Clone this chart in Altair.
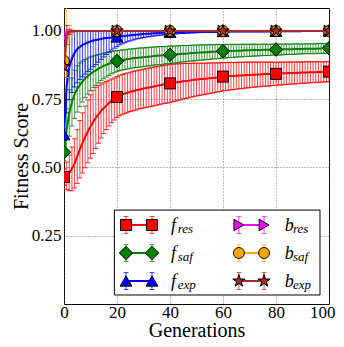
import altair as alt
import pandas as pd

# ---------------- data ----------------
gens = list(range(101))

f_res_mean = [
    0.465, 0.470, 0.480, 0.495, 0.515, 0.540, 0.567, 0.590, 0.612, 0.632,
    0.650, 0.667, 0.682, 0.695, 0.707, 0.717, 0.727, 0.736, 0.744, 0.751,
    0.758, 0.764, 0.768, 0.771, 0.774, 0.777, 0.780, 0.782, 0.785, 0.787,
    0.789, 0.791, 0.793, 0.795, 0.797, 0.799, 0.801, 0.803, 0.805, 0.806,
    0.808, 0.810, 0.811, 0.813, 0.814, 0.816, 0.817, 0.818, 0.820, 0.821,
    0.822, 0.823, 0.824, 0.825, 0.826, 0.827, 0.828, 0.829, 0.830, 0.831,
    0.833, 0.833, 0.834, 0.835, 0.835, 0.836, 0.837, 0.837, 0.838, 0.839,
    0.839, 0.840, 0.840, 0.841, 0.841, 0.842, 0.842, 0.842, 0.843, 0.843,
    0.843, 0.844, 0.844, 0.845, 0.845, 0.846, 0.846, 0.846, 0.847, 0.847,
    0.848, 0.848, 0.848, 0.849, 0.849, 0.849, 0.850, 0.850, 0.850, 0.851,
    0.851,
]
f_res_err = [
    0.030, 0.050, 0.065, 0.080, 0.090, 0.098, 0.105, 0.110, 0.113, 0.115,
    0.116, 0.116, 0.112, 0.106, 0.099, 0.093, 0.088, 0.084, 0.080, 0.077,
    0.075, 0.074, 0.073, 0.073, 0.072, 0.072, 0.072, 0.072, 0.071, 0.071,
    0.071, 0.071, 0.071, 0.071, 0.071, 0.071, 0.070, 0.070, 0.070, 0.070,
    0.070, 0.069, 0.068, 0.067, 0.066, 0.065, 0.064, 0.063, 0.062, 0.061,
    0.060, 0.059, 0.058, 0.057, 0.057, 0.056, 0.055, 0.054, 0.053, 0.053,
    0.052, 0.051, 0.051, 0.050, 0.050, 0.049, 0.049, 0.048, 0.048, 0.047,
    0.047, 0.046, 0.046, 0.045, 0.045, 0.044, 0.044, 0.044, 0.043, 0.043,
    0.042, 0.042, 0.042, 0.041, 0.041, 0.041, 0.040, 0.040, 0.040, 0.039,
    0.039, 0.039, 0.039, 0.038, 0.038, 0.038, 0.038, 0.037, 0.037, 0.037,
    0.037,
]
f_saf_mean = [
    0.556, 0.640, 0.700, 0.740, 0.768, 0.788, 0.803, 0.815, 0.826, 0.835,
    0.843, 0.850, 0.856, 0.862, 0.867, 0.872, 0.876, 0.880, 0.884, 0.887,
    0.890, 0.892, 0.894, 0.895, 0.897, 0.898, 0.900, 0.901, 0.902, 0.903,
    0.904, 0.905, 0.906, 0.907, 0.908, 0.909, 0.910, 0.910, 0.911, 0.912,
    0.913, 0.914, 0.914, 0.915, 0.916, 0.917, 0.917, 0.918, 0.919, 0.919,
    0.920, 0.921, 0.921, 0.922, 0.922, 0.923, 0.924, 0.924, 0.925, 0.925,
    0.926, 0.926, 0.927, 0.927, 0.927, 0.928, 0.928, 0.928, 0.929, 0.929,
    0.929, 0.930, 0.930, 0.930, 0.930, 0.931, 0.931, 0.931, 0.931, 0.932,
    0.932, 0.932, 0.932, 0.933, 0.933, 0.933, 0.933, 0.934, 0.934, 0.934,
    0.934, 0.935, 0.935, 0.935, 0.935, 0.935, 0.936, 0.936, 0.936, 0.936,
    0.937,
]
f_saf_err = [
    0.030, 0.075, 0.085, 0.088, 0.088, 0.085, 0.080, 0.075, 0.070, 0.066,
    0.062, 0.058, 0.055, 0.052, 0.049, 0.047, 0.045, 0.043, 0.041, 0.040,
    0.038, 0.037, 0.037, 0.036, 0.036, 0.036, 0.035, 0.035, 0.035, 0.035,
    0.034, 0.034, 0.034, 0.034, 0.033, 0.033, 0.033, 0.033, 0.032, 0.032,
    0.032, 0.031, 0.031, 0.031, 0.030, 0.030, 0.030, 0.029, 0.029, 0.029,
    0.028, 0.028, 0.028, 0.027, 0.027, 0.027, 0.026, 0.026, 0.026, 0.025,
    0.025, 0.025, 0.024, 0.024, 0.024, 0.023, 0.023, 0.023, 0.023, 0.022,
    0.022, 0.022, 0.022, 0.021, 0.021, 0.021, 0.021, 0.021, 0.020, 0.020,
    0.020, 0.020, 0.020, 0.019, 0.019, 0.019, 0.019, 0.019, 0.019, 0.018,
    0.018, 0.018, 0.018, 0.018, 0.018, 0.018, 0.018, 0.018, 0.018, 0.018,
    0.018,
]
f_exp_mean = [
    0.620, 0.800, 0.868, 0.900, 0.920, 0.933, 0.942, 0.949, 0.954, 0.958,
    0.962, 0.965, 0.967, 0.969, 0.971, 0.973, 0.974, 0.975, 0.976, 0.977,
    0.978, 0.980, 0.981, 0.982, 0.983, 0.984, 0.985, 0.986, 0.987, 0.988,
    0.989, 0.990, 0.990, 0.991, 0.992, 0.992, 0.993, 0.993, 0.994, 0.994,
    0.995, 0.995, 0.995, 0.996, 0.996, 0.996, 0.997, 0.997, 0.997, 0.997,
    0.998, 0.998, 0.998, 0.998, 0.998, 0.998, 0.998, 0.998, 0.998, 0.998,
    0.998, 0.998, 0.998, 0.999, 0.999, 0.999, 0.999, 0.999, 0.999, 0.999,
    0.999, 0.999, 0.999, 0.999, 0.999, 0.999, 0.999, 0.999, 0.999, 0.999,
    0.999, 0.999, 0.999, 0.999, 0.999, 0.999, 0.999, 0.999, 0.999, 0.999,
    1.000, 1.000, 1.000, 1.000, 1.000, 1.000, 1.000, 1.000, 1.000, 1.000,
    1.000,
]
f_exp_err = [
    0.020, 0.100, 0.120, 0.125, 0.125, 0.123, 0.120, 0.117, 0.112, 0.107,
    0.102, 0.096, 0.090, 0.083, 0.075, 0.068, 0.060, 0.053, 0.046, 0.040,
    0.035, 0.031, 0.028, 0.025, 0.022, 0.020, 0.018, 0.016, 0.015, 0.014,
    0.013, 0.012, 0.011, 0.010, 0.010, 0.009, 0.009, 0.008, 0.008, 0.007,
    0.007, 0.006, 0.006, 0.006, 0.005, 0.005, 0.005, 0.005, 0.004, 0.004,
    0.004, 0.004, 0.003, 0.003, 0.003, 0.003, 0.003, 0.003, 0.003, 0.003,
    0.002, 0.002, 0.002, 0.002, 0.002, 0.002, 0.002, 0.002, 0.002, 0.002,
    0.002, 0.002, 0.002, 0.002, 0.002, 0.002, 0.002, 0.002, 0.002, 0.002,
    0.001, 0.001, 0.001, 0.001, 0.001, 0.001, 0.001, 0.001, 0.001, 0.001,
    0.001, 0.001, 0.001, 0.001, 0.001, 0.001, 0.001, 0.001, 0.001, 0.001,
    0.001,
]
b_res_mean = [
    0.975, 0.995, 0.999, 1.000, 1.000, 1.000, 1.000, 1.000, 1.000, 1.000,
    1.000, 1.000, 1.000, 1.000, 1.000, 1.000, 1.000, 1.000, 1.000, 1.000,
    1.000, 1.000, 1.000, 1.000, 1.000, 1.000, 1.000, 1.000, 1.000, 1.000,
    1.000, 1.000, 1.000, 1.000, 1.000, 1.000, 1.000, 1.000, 1.000, 1.000,
    1.000, 1.000, 1.000, 1.000, 1.000, 1.000, 1.000, 1.000, 1.000, 1.000,
    1.000, 1.000, 1.000, 1.000, 1.000, 1.000, 1.000, 1.000, 1.000, 1.000,
    1.000, 1.000, 1.000, 1.000, 1.000, 1.000, 1.000, 1.000, 1.000, 1.000,
    1.000, 1.000, 1.000, 1.000, 1.000, 1.000, 1.000, 1.000, 1.000, 1.000,
    1.000, 1.000, 1.000, 1.000, 1.000, 1.000, 1.000, 1.000, 1.000, 1.000,
    1.000, 1.000, 1.000, 1.000, 1.000, 1.000, 1.000, 1.000, 1.000, 1.000,
    1.000,
]
b_res_err = [
    0.020, 0.008, 0.002, 0.000, 0.000, 0.000, 0.000, 0.000, 0.000, 0.000,
    0.000, 0.000, 0.000, 0.000, 0.000, 0.000, 0.000, 0.000, 0.000, 0.000,
    0.000, 0.000, 0.000, 0.000, 0.000, 0.000, 0.000, 0.000, 0.000, 0.000,
    0.000, 0.000, 0.000, 0.000, 0.000, 0.000, 0.000, 0.000, 0.000, 0.000,
    0.000, 0.000, 0.000, 0.000, 0.000, 0.000, 0.000, 0.000, 0.000, 0.000,
    0.000, 0.000, 0.000, 0.000, 0.000, 0.000, 0.000, 0.000, 0.000, 0.000,
    0.000, 0.000, 0.000, 0.000, 0.000, 0.000, 0.000, 0.000, 0.000, 0.000,
    0.000, 0.000, 0.000, 0.000, 0.000, 0.000, 0.000, 0.000, 0.000, 0.000,
    0.000, 0.000, 0.000, 0.000, 0.000, 0.000, 0.000, 0.000, 0.000, 0.000,
    0.000, 0.000, 0.000, 0.000, 0.000, 0.000, 0.000, 0.000, 0.000, 0.000,
    0.000,
]
b_saf_mean = [
    0.890, 0.960, 0.990, 0.997, 0.999, 1.000, 1.000, 1.000, 1.000, 1.000,
    1.000, 1.000, 1.000, 1.000, 1.000, 1.000, 1.000, 1.000, 1.000, 1.000,
    1.000, 1.000, 1.000, 1.000, 1.000, 1.000, 1.000, 1.000, 1.000, 1.000,
    1.000, 1.000, 1.000, 1.000, 1.000, 1.000, 1.000, 1.000, 1.000, 1.000,
    1.000, 1.000, 1.000, 1.000, 1.000, 1.000, 1.000, 1.000, 1.000, 1.000,
    1.000, 1.000, 1.000, 1.000, 1.000, 1.000, 1.000, 1.000, 1.000, 1.000,
    1.000, 1.000, 1.000, 1.000, 1.000, 1.000, 1.000, 1.000, 1.000, 1.000,
    1.000, 1.000, 1.000, 1.000, 1.000, 1.000, 1.000, 1.000, 1.000, 1.000,
    1.000, 1.000, 1.000, 1.000, 1.000, 1.000, 1.000, 1.000, 1.000, 1.000,
    1.000, 1.000, 1.000, 1.000, 1.000, 1.000, 1.000, 1.000, 1.000, 1.000,
    1.000,
]
b_saf_err = [
    0.050, 0.130, 0.030, 0.010, 0.003, 0.000, 0.000, 0.000, 0.000, 0.000,
    0.000, 0.000, 0.000, 0.000, 0.000, 0.000, 0.000, 0.000, 0.000, 0.000,
    0.000, 0.000, 0.000, 0.000, 0.000, 0.000, 0.000, 0.000, 0.000, 0.000,
    0.000, 0.000, 0.000, 0.000, 0.000, 0.000, 0.000, 0.000, 0.000, 0.000,
    0.000, 0.000, 0.000, 0.000, 0.000, 0.000, 0.000, 0.000, 0.000, 0.000,
    0.000, 0.000, 0.000, 0.000, 0.000, 0.000, 0.000, 0.000, 0.000, 0.000,
    0.000, 0.000, 0.000, 0.000, 0.000, 0.000, 0.000, 0.000, 0.000, 0.000,
    0.000, 0.000, 0.000, 0.000, 0.000, 0.000, 0.000, 0.000, 0.000, 0.000,
    0.000, 0.000, 0.000, 0.000, 0.000, 0.000, 0.000, 0.000, 0.000, 0.000,
    0.000, 0.000, 0.000, 0.000, 0.000, 0.000, 0.000, 0.000, 0.000, 0.000,
    0.000,
]
b_exp_mean = [
    0.870, 0.985, 0.997, 0.999, 1.000, 1.000, 1.000, 1.000, 1.000, 1.000,
    1.000, 1.000, 1.000, 1.000, 1.000, 1.000, 1.000, 1.000, 1.000, 1.000,
    1.000, 1.000, 1.000, 1.000, 1.000, 1.000, 1.000, 1.000, 1.000, 1.000,
    1.000, 1.000, 1.000, 1.000, 1.000, 1.000, 1.000, 1.000, 1.000, 1.000,
    1.000, 1.000, 1.000, 1.000, 1.000, 1.000, 1.000, 1.000, 1.000, 1.000,
    1.000, 1.000, 1.000, 1.000, 1.000, 1.000, 1.000, 1.000, 1.000, 1.000,
    1.000, 1.000, 1.000, 1.000, 1.000, 1.000, 1.000, 1.000, 1.000, 1.000,
    1.000, 1.000, 1.000, 1.000, 1.000, 1.000, 1.000, 1.000, 1.000, 1.000,
    1.000, 1.000, 1.000, 1.000, 1.000, 1.000, 1.000, 1.000, 1.000, 1.000,
    1.000, 1.000, 1.000, 1.000, 1.000, 1.000, 1.000, 1.000, 1.000, 1.000,
    1.000,
]
b_exp_err = [
    0.040, 0.035, 0.010, 0.003, 0.000, 0.000, 0.000, 0.000, 0.000, 0.000,
    0.000, 0.000, 0.000, 0.000, 0.000, 0.000, 0.000, 0.000, 0.000, 0.000,
    0.000, 0.000, 0.000, 0.000, 0.000, 0.000, 0.000, 0.000, 0.000, 0.000,
    0.000, 0.000, 0.000, 0.000, 0.000, 0.000, 0.000, 0.000, 0.000, 0.000,
    0.000, 0.000, 0.000, 0.000, 0.000, 0.000, 0.000, 0.000, 0.000, 0.000,
    0.000, 0.000, 0.000, 0.000, 0.000, 0.000, 0.000, 0.000, 0.000, 0.000,
    0.000, 0.000, 0.000, 0.000, 0.000, 0.000, 0.000, 0.000, 0.000, 0.000,
    0.000, 0.000, 0.000, 0.000, 0.000, 0.000, 0.000, 0.000, 0.000, 0.000,
    0.000, 0.000, 0.000, 0.000, 0.000, 0.000, 0.000, 0.000, 0.000, 0.000,
    0.000, 0.000, 0.000, 0.000, 0.000, 0.000, 0.000, 0.000, 0.000, 0.000,
    0.000,
]

series_names = ["f_res", "f_saf", "f_exp", "b_res", "b_saf", "b_exp"]
series_main = ["f", "f", "f", "b", "b", "b"]
series_sub = ["res", "saf", "exp", "res", "saf", "exp"]
series_means = [f_res_mean, f_saf_mean, f_exp_mean, b_res_mean, b_saf_mean, b_exp_mean]
series_errs = [f_res_err, f_saf_err, f_exp_err, b_res_err, b_saf_err, b_exp_err]
upper_limit = [None, None, 1.0, None, None, None]   # f_exp bars stop at 1.0
x_ticks = [0, 20, 40, 60, 80, 100]
y_ticks = [0.25, 0.50, 0.75, 1.00]

# ---------------- styling ----------------
FONT = "Liberation Serif"
STAR = ("M0,-1L0.2245,-0.309L0.9511,-0.309L0.3633,0.118L0.5878,0.809L0,0.382"
        "L-0.5878,0.809L-0.3633,0.118L-0.9511,-0.309L-0.2245,-0.309Z")
colors = ["#ff0000", "#008000", "#0000ff", "#ff00ff", "#ffa500", "#a52a2a"]
shapes = ["square", "diamond", "triangle-up", "triangle-right", "circle", STAR]
sizes = [121, 180, 140, 130, 120, 165]
MARK_EVERY = 20

W, H = 265, 296
xs = alt.Scale(domain=[0, 100], nice=False, zero=False)
ys = alt.Scale(domain=[0, 1.0842], nice=False, zero=False)

last_x = x_ticks[-1]
xaxis = alt.Axis(values=x_ticks, format="d", grid=True, ticks=False, tickSize=0,
                 domain=False, labelFlush=False, labelOverlap=False, labelBound=False,
                 labelAlign={"condition": {"test": f"datum.value == {last_x}", "value": "right"},
                             "value": "center"},
                 labelOffset={"condition": {"test": f"datum.value == {last_x}", "value": 6},
                              "value": 0},
                 labelPadding=0, labelFont=FONT, labelFontSize=17, labelColor="black",
                 titleFont=FONT, titleFontSize=20, titleFontWeight="normal",
                 titleColor="black", titleX=W / 2, titleY=32, titleBaseline="alphabetic",
                 titleAlign="center",
                 gridColor="#555555", gridDash=[1, 2], gridWidth=0.8)
yaxis = alt.Axis(values=y_ticks, format=".2f", grid=True, ticks=False, tickSize=0,
                 domain=False, labelOverlap=False, labelPadding=3, labelFont=FONT,
                 labelFontSize=17, labelColor="black",
                 titleFont=FONT, titleFontSize=20, titleFontWeight="normal",
                 titleColor="black", titleX=-37, titleY=H / 2, titleAngle=270,
                 titleBaseline="alphabetic", titleAlign="center",
                 gridColor="#555555", gridDash=[1, 2], gridWidth=0.8)


def X(f):
    return alt.X(f"{f}:Q", scale=xs, axis=xaxis, title="Generations")


def Y(f):
    return alt.Y(f"{f}:Q", scale=ys, axis=yaxis, title="Fitness Score")


rows = []
for name, mean, err, lim in zip(series_names, series_means, series_errs, upper_limit):
    for g, m, e in zip(gens, mean, err):
        hi = m + e
        if lim is not None:
            hi = min(hi, lim)
        rows.append({"series": name, "g": g, "mean": m, "lo": m - e, "hi": hi})
df = pd.DataFrame(rows)

layers = []
for name, col, shp, sz in zip(series_names, colors, shapes, sizes):
    base = alt.Chart().transform_filter(f"datum.series == '{name}'")
    layers.append(base.mark_rule(color=col, strokeWidth=1, opacity=0.75, clip=True)
                  .encode(x=X("g"), y=Y("lo"), y2="hi"))
    layers.append(base.mark_tick(color=col, orient="horizontal", size=5, thickness=1,
                                 opacity=0.85, clip=True)
                  .encode(x=X("g"), y=Y("lo")))
    layers.append(base.mark_tick(color=col, orient="horizontal", size=5, thickness=1,
                                 opacity=0.85, clip=True)
                  .encode(x=X("g"), y=Y("hi")))
    layers.append(base.mark_line(color=col, strokeWidth=2, clip=True)
                  .encode(x=X("g"), y=Y("mean")))
    layers.append(alt.Chart()
                  .transform_filter(f"datum.series == '{name}' && datum.g % {MARK_EVERY} == 0")
                  .mark_point(filled=True, fill=col, stroke="black", strokeWidth=1,
                              opacity=1, shape=shp, size=sz, clip=True)
                  .encode(x=X("g"), y=Y("mean")))

# ---------------- custom legend (placed in data units) ----------------
LEG_BOX = {"x0": [19.0], "x1": [96.6], "y0": [0.033], "y1": [0.344]}
row_y = [0.2894, 0.1868, 0.0842]
col_mark_x = [(23.4, 33.2), (66.0, 75.5)]
col_main_x = [40.4, 83.3]
col_sub_x = [42.9, 86.4]
BAR_HALF = 0.031

leg_entries = []
leg_points = []
for i, name in enumerate(series_names):
    c, r = i // 3, i % 3
    xa, xb = col_mark_x[c]
    yv = row_y[r]
    leg_entries.append({"xa": xa, "xb": xb, "y": yv, "color": colors[i],
                        "main": series_main[i], "sub": series_sub[i],
                        "tm": col_main_x[c], "ts": col_sub_x[c]})
    for xv in (xa, xb):
        leg_points.append({"x": xv, "y": yv, "ylo": yv - BAR_HALF, "yhi": yv + BAR_HALF,
                           "color": colors[i], "shape": shapes[i], "size": sizes[i]})
leg_df = pd.DataFrame(leg_entries)
leg_pts = pd.DataFrame(leg_points)
CS = alt.Color("color:N", scale=None)

layers.append(alt.Chart(pd.DataFrame(LEG_BOX))
              .mark_rect(fill="white", stroke="black", strokeWidth=1)
              .encode(x=X("x0"), x2="x1", y=Y("y0"), y2="y1"))
layers.append(alt.Chart(leg_df).mark_rule(strokeWidth=2)
              .encode(x=X("xa"), x2="xb", y=Y("y"), color=CS))
layers.append(alt.Chart(leg_pts).mark_rule(strokeWidth=1, opacity=0.8)
              .encode(x=X("x"), y=Y("ylo"), y2="yhi", color=CS))
layers.append(alt.Chart(leg_pts).mark_tick(orient="horizontal", size=5, thickness=1)
              .encode(x=X("x"), y=Y("ylo"), color=CS))
layers.append(alt.Chart(leg_pts).mark_tick(orient="horizontal", size=5, thickness=1)
              .encode(x=X("x"), y=Y("yhi"), color=CS))
layers.append(alt.Chart(leg_pts).mark_point(filled=True, stroke="black", strokeWidth=1, opacity=1)
              .encode(x=X("x"), y=Y("y"), fill=alt.Fill("color:N", scale=None),
                      shape=alt.Shape("shape:N", scale=None),
                      size=alt.Size("size:Q", scale=None)))
layers.append(alt.Chart(leg_df).mark_text(font=FONT, fontStyle="italic", fontSize=18,
                                          align="left", baseline="alphabetic", dy=6,
                                          color="black")
              .encode(x=X("tm"), y=Y("y"), text="main:N"))
layers.append(alt.Chart(leg_df).mark_text(font=FONT, fontStyle="italic", fontSize=13,
                                          align="left", baseline="alphabetic", dy=8,
                                          color="black")
              .encode(x=X("ts"), y=Y("y"), text="sub:N"))

chart = (alt.layer(*layers, data=df)
         .properties(width=W, height=H,
                     padding={"left": 56, "top": 0, "right": 7, "bottom": 35},
                     autosize=alt.AutoSizeParams(type="none"),
                     background="white")
         .configure_view(stroke="black", strokeWidth=1))

chart.save("out.html", embed_options={"renderer": "svg", "actions": False})
